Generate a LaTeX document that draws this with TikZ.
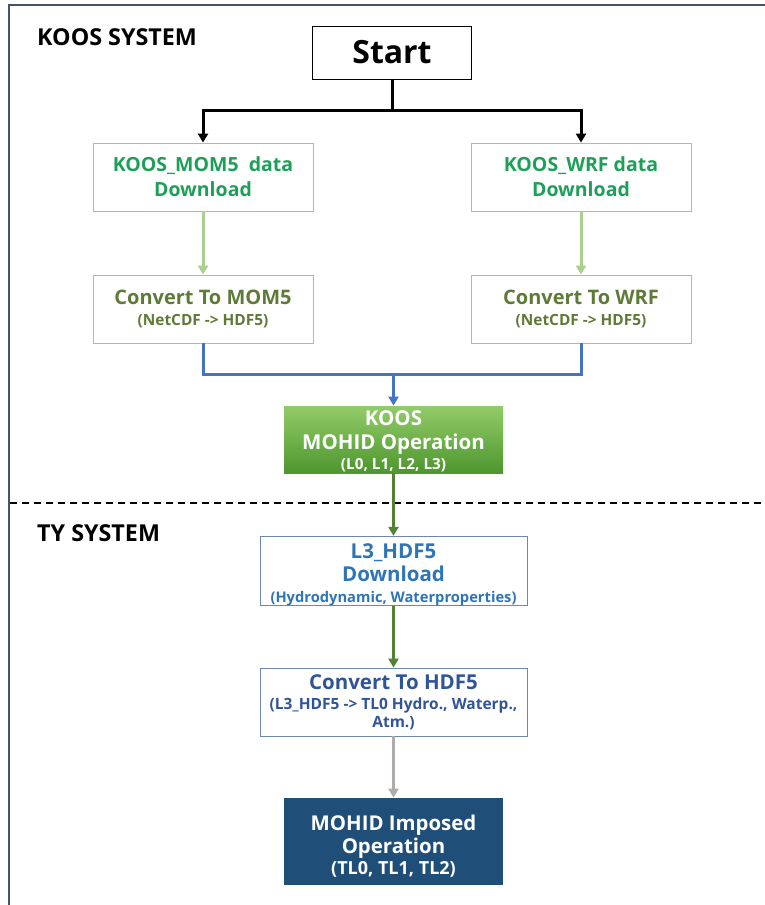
\documentclass[tikz,border=0pt]{standalone}
\usepackage{fontspec}
\setmainfont{Open Sans}
\usetikzlibrary{arrows.meta}
\definecolor{frameC}{RGB}{68,84,106}
\definecolor{dlGreen}{RGB}{28,160,88}
\definecolor{cvGreen}{RGB}{95,122,55}
\definecolor{boxGreen}{RGB}{172,192,145}
\definecolor{lgArrow}{RGB}{169,208,142}
\definecolor{blueLine}{RGB}{68,114,196}
\definecolor{gTop}{RGB}{146,204,104}
\definecolor{gBot}{RGB}{78,150,46}
\definecolor{dgArrow}{RGB}{84,130,53}
\definecolor{l3Text}{RGB}{46,117,182}
\definecolor{hdfText}{RGB}{47,85,151}
\definecolor{boxBlue}{RGB}{110,135,175}
\definecolor{grayArrow}{RGB}{175,171,171}
\definecolor{impFill}{RGB}{31,78,121}
\tikzset{
  bx/.style={draw, line width=0.8pt, inner sep=0pt, align=center},
  topbox/.style={bx, draw=boxGreen, minimum width=220pt, minimum height=68pt},
  tybox/.style={bx, draw=boxBlue, minimum width=267pt, minimum height=68pt},
  conn/.style={line width=3pt, -{Triangle[length=9pt,width=10pt]}},
  plain/.style={line width=3pt},
  title/.style={font=\bfseries\fontsize{23.3}{26}\selectfont, anchor=west, inner sep=0pt}
}
\begin{document}
\begin{tikzpicture}[x=1pt,y=-1pt]
\useasboundingbox (0,0) rectangle (764,905);
\draw[frameC, line width=1.6pt] (9,910) -- (9,5) -- (770,5);

\node[title] (koos) at (37,37) {KOOS SYSTEM};
\node[title] (ty) at (37,533) {TY SYSTEM};

\node[bx, draw=black, minimum width=159pt, minimum height=53pt, font=\bfseries\fontsize{32}{34}\selectfont] (start) at (392,52.5) {Start};

\node[topbox, text=dlGreen, font=\bfseries\fontsize{19.5}{25}\selectfont] (mom) at (203,177) {KOOS\_MOM5\ \ data\\Download};
\node[topbox, text=dlGreen, font=\bfseries\fontsize{19.5}{25}\selectfont] (wrf) at (581,177) {KOOS\_WRF data\\Download};

\node[topbox, text=cvGreen, font=\bfseries\fontsize{20}{21}\selectfont] (cmom) at (203,309) {Convert To MOM5\\{\fontsize{15.4}{16}\selectfont (NetCDF -> HDF5)}};
\node[topbox, text=cvGreen, font=\bfseries\fontsize{20}{21}\selectfont] (cwrf) at (581,309) {Convert To WRF\\{\fontsize{15.4}{16}\selectfont (NetCDF -> HDF5)}};

\node[bx, draw=none, top color=gTop, bottom color=gBot, text=white, minimum width=219pt, minimum height=67pt, font=\bfseries\fontsize{20.5}{20}\selectfont] (mohid) at (393.5,439.5) {\rule{0pt}{19pt}KOOS\\[4pt]MOHID Operation\\{\fontsize{15.3}{17}\selectfont (L0, L1, L2, L3)}};

\draw[black, line width=1.6pt, dash pattern=on 7pt off 5pt] (10,503) -- (764,503);

\node[tybox, text=l3Text, font=\bfseries\fontsize{20.5}{21}\selectfont] (l3) at (393.5,571) {\rule{0pt}{22pt}L3\_HDF5\\[2pt]Download\\{\fontsize{14.7}{17}\selectfont (Hydrodynamic, Waterproperties)}};

\node[tybox, text=hdfText, font=\bfseries\fontsize{20.5}{18}\selectfont] (chdf) at (393.5,702) {Convert To HDF5\\[2pt]{\fontsize{15.5}{16}\selectfont (L3\_HDF5 -> TL0 Hydro., Waterp.,}\\{\fontsize{15.5}{16}\selectfont Atm.)}};

\node[bx, draw=none, fill=impFill, text=white, minimum width=219pt, minimum height=87pt, font=\bfseries\fontsize{20.4}{21}\selectfont] (imp) at (393.5,841.5) {\rule{0pt}{24pt}MOHID Imposed\\[2pt]Operation\\{\fontsize{18}{22}\selectfont (TL0, TL1, TL2)}};

% connectors
\coordinate (j1) at (392,110);
\draw[plain, black] (start.south) -- (j1);
\draw[conn, black] (j1) -| (mom.north);
\draw[conn, black] (j1) -| (wrf.north);

\draw[conn, lgArrow] (mom) -- (cmom);
\draw[conn, lgArrow] (wrf) -- (cwrf);

\coordinate (j2) at (393.5,374);
\draw[plain, blueLine, line join=miter] (cmom.south) |- (j2) -| (cwrf.south);
\draw[conn, blueLine] (j2) -- (mohid.north);

\draw[conn, dgArrow] (mohid.south) -- (l3.north);
\draw[conn, dgArrow] (l3.south) -- (chdf.north);
\draw[conn, grayArrow] (chdf.south) -- (imp.north);
\end{tikzpicture}
\end{document}
